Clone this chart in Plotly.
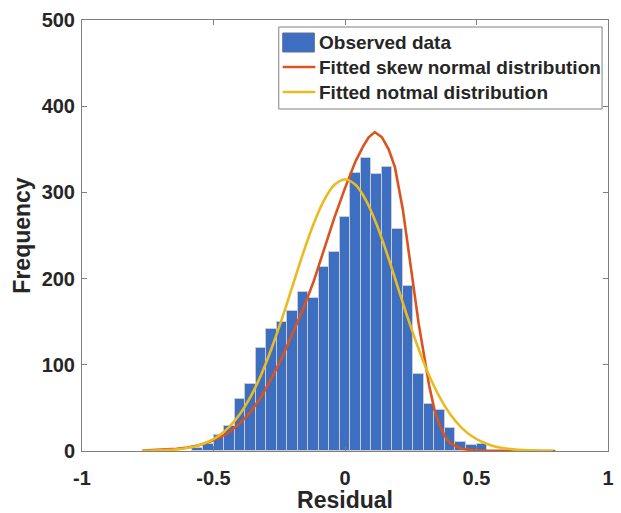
import plotly.graph_objects as go

# ---- histogram data (bin centres, counts) ----
bin_centers = [-0.56, -0.52, -0.48, -0.44, -0.40, -0.36, -0.32, -0.28, -0.24, -0.20,
               -0.16, -0.12, -0.08, -0.04, 0.00, 0.04, 0.08, 0.12, 0.16, 0.20,
               0.24, 0.28, 0.32, 0.36, 0.40, 0.44, 0.48, 0.52]
counts = [3, 8, 18, 29, 60, 78, 119, 141, 150, 162,
          185, 177, 213, 231, 272, 323, 340, 321, 329, 258,
          192, 89, 54, 47, 27, 11, 7, 8]

# ---- fitted skew normal curve ----
skew_x = [-0.77, -0.72, -0.68, -0.64, -0.60, -0.56, -0.52, -0.48, -0.44, -0.40,
          -0.36, -0.32, -0.28, -0.24, -0.20, -0.16, -0.12, -0.08, -0.04, 0.00,
          0.04, 0.07, 0.09, 0.113, 0.14, 0.166, 0.19, 0.22, 0.24, 0.26,
          0.28, 0.30, 0.32, 0.34, 0.36, 0.38, 0.40, 0.44, 0.48, 0.52,
          0.60, 0.70, 0.80]
skew_y = [0.4, 1.0, 1.5, 2.5, 4.0, 6.5, 10, 15, 22, 32,
          45, 62, 84, 108, 136, 164, 196, 234, 271, 305,
          336, 354, 364, 370, 364, 350, 329, 280, 236, 188,
          148, 112, 76, 48, 30, 17, 9, 3, 1, 0.4,
          0.1, 0, 0]

# ---- fitted normal curve ----
norm_x = [-0.77, -0.72, -0.68, -0.64, -0.60, -0.56, -0.52, -0.48, -0.44, -0.40,
          -0.36, -0.32, -0.28, -0.24, -0.20, -0.16, -0.12, -0.08, -0.04, 0.00,
          0.04, 0.08, 0.12, 0.16, 0.20, 0.24, 0.28, 0.32, 0.36, 0.40,
          0.44, 0.48, 0.52, 0.56, 0.60, 0.64, 0.68, 0.72, 0.76, 0.79]
norm_y = [0.2, 0.5, 1.0, 1.9, 3.5, 6.2, 10.7, 17.7, 28.0, 42.6,
          62.4, 87.6, 118.3, 153.2, 191.0, 228.7, 263.0, 290.8, 308.8, 315.0,
          308.8, 290.8, 263.0, 228.7, 191.0, 153.2, 118.3, 87.6, 62.4, 42.6,
          28.0, 17.7, 10.7, 6.2, 3.5, 1.9, 1.0, 0.5, 0.2, 0.1]

x_ticks = [-1, -0.5, 0, 0.5, 1]
x_tick_labels = ["-1", "-0.5", "0", "0.5", "1"]
y_ticks = [0, 100, 200, 300, 400, 500]

legend_names = ["Observed data", "Fitted skew normal distribution", "Fitted notmal distribution"]

FONT = "Liberation Sans, Arial, sans-serif"
TXT = "#262626"
AX = "#808080"
BAR_COLOR = "#3d6ec0"
BAR_EDGE = "#c9ccd6"
RED = "#d9541e"
YEL = "#e9bb22"

W, H = 621, 513
ML, MR, MT, MB = 82, 7, 20, 62
PW, PH = W - ML - MR, H - MT - MB


def px(x):
    return (x - ML) / PW


def py(y):
    return (H - MB - y) / PH


fig = go.Figure()
fig.add_trace(go.Bar(
    x=bin_centers, y=counts, width=0.04,
    name=legend_names[0],
    marker=dict(color=BAR_COLOR, line=dict(color=BAR_EDGE, width=1)),
))
fig.add_trace(go.Scatter(
    x=skew_x, y=skew_y, mode="lines", name=legend_names[1],
    line=dict(color=RED, width=2.6),
))
fig.add_trace(go.Scatter(
    x=norm_x, y=norm_y, mode="lines", name=legend_names[2],
    line=dict(color=YEL, width=2.6, shape="spline", smoothing=0.8),
))

# ---- MATLAB-style legend box (layout decoration) ----
shapes = [
    dict(type="rect", xref="paper", yref="paper", layer="above",
         x0=px(281), x1=px(608), y0=py(109), y1=py(27),
         fillcolor="white", line=dict(color=AX, width=1)),
    dict(type="rect", xref="paper", yref="paper", layer="above",
         x0=px(285), x1=px(317), y0=py(52), y1=py(33),
         fillcolor=BAR_COLOR, line=dict(color="#5a6f9a", width=1)),
    dict(type="line", xref="paper", yref="paper", layer="above",
         x0=px(285), x1=px(318), y0=py(67), y1=py(67),
         line=dict(color=RED, width=2.6)),
    dict(type="line", xref="paper", yref="paper", layer="above",
         x0=px(285), x1=px(318), y0=py(92), y1=py(92),
         line=dict(color=YEL, width=2.6)),
]
annotations = []
for name, yy in zip(legend_names, [42.5, 67, 92]):
    annotations.append(dict(
        text=name, xref="paper", yref="paper", x=px(320), y=py(yy),
        xanchor="left", yanchor="middle", showarrow=False,
        font=dict(family=FONT, size=19, color=TXT, weight="bold"),
    ))

fig.update_layout(
    width=W, height=H,
    margin=dict(l=ML, r=MR, t=MT, b=MB),
    paper_bgcolor="white", plot_bgcolor="white",
    font=dict(family=FONT, color=TXT, size=19, weight="bold"),
    bargap=0,
    showlegend=False,
    shapes=shapes,
    annotations=annotations,
    xaxis=dict(
        range=[-1, 1], tickvals=x_ticks, ticktext=x_tick_labels,
        showgrid=False, zeroline=False,
        showline=True, linecolor=AX, linewidth=1, mirror="ticks",
        ticks="inside", ticklen=5, tickcolor=AX, ticklabelstandoff=9,
        tickfont=dict(family=FONT, size=20, color=TXT, weight="bold"),
        title=dict(text="Residual", font=dict(family=FONT, size=23, color=TXT, weight="bold"), standoff=1),
    ),
    yaxis=dict(
        range=[0, 500], tickvals=y_ticks,
        showgrid=False, zeroline=False,
        showline=True, linecolor=AX, linewidth=1, mirror="ticks",
        ticks="inside", ticklen=5, tickcolor=AX, ticklabelstandoff=2,
        tickfont=dict(family=FONT, size=20, color=TXT, weight="bold"),
        title=dict(text="Frequency", font=dict(family=FONT, size=23, color=TXT, weight="bold"), standoff=4),
    ),
)

fig.write_html("out.html")
